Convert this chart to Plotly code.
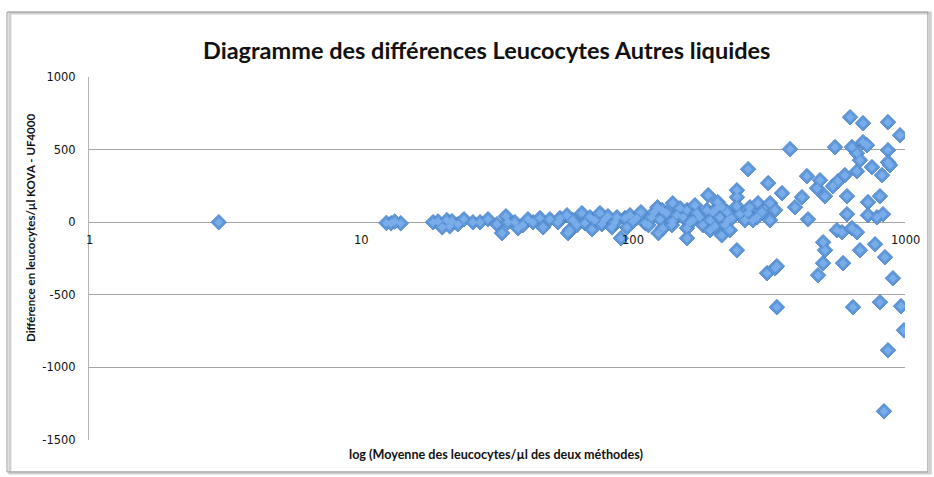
import plotly.graph_objects as go
import math

# Mean leukocyte count of the two methods (per µl) and KOVA - UF4000 difference
moyenne = [
    3.0, 12.4, 12.9, 14.0, 13.3, 18.4, 19.2, 19.9, 20.7, 21.2, 21.6, 22.7, 23.9, 25.8,
    27.4, 29.3, 31.6, 33.0, 34.1, 34.7, 36.8, 37.8, 39.4, 41.1, 42.9, 45.5, 46.7, 49.5,
    53.0, 53.9, 57.2, 57.7, 58.6, 60.1, 62.2, 64.9, 66.6, 69.5, 70.7, 72.5, 75.6, 76.9,
    78.9, 80.9, 83.7, 85.9, 87.3, 90.3, 93.4, 95.1, 97.5, 100, 103, 107, 111, 114,
    117, 120, 123, 124, 126, 128, 129, 133, 139, 140, 140, 145, 149, 153, 158,
    158, 158, 162, 166, 169, 172, 176, 181, 187, 189, 192, 192, 197, 200, 204,
    205, 209, 212, 212, 218, 222, 224, 227, 231, 241, 241, 241, 241, 247, 258,
    265, 265, 269, 276, 286, 288, 298, 311, 314, 319, 319, 333, 333, 338, 338,
    353, 378, 394, 418, 436, 440, 475, 479, 487, 500, 500, 508, 508, 543, 553,
    562, 567, 587, 592, 601, 612, 612, 628, 638, 638, 644, 666, 666, 666, 683,
    683, 701, 701, 725, 731, 731, 756, 776, 789, 809, 809, 823, 830, 837, 844,
    866, 866, 866, 866, 881, 903, 959, 967, 991,
]
difference = [
    0, -5, -7, -7, 5, 0, 5, -35, 14, -28, 7, -14, 20, 0,
    0, 20, -14, -75, 41, 0, 0, -41, -20, 20, 0, 28, -35, 20,
    0, 28, 48, -75, -55, 14, -20, 62, -7, 34, -48, 14, 62, -14,
    20, 41, -35, 0, 34, -110, 28, -35, 48, 7, 28, 69, -7, -20,
    34, 69, 103, -75, 20, 83, -41, 62, -20, 130, 7, 48, 96, 34, 83,
    -41, -110, 0, 14, 117, 62, 34, -20, 83, 186, 14, -55, 69, -28, 96,
    138, 34, 103, -90, -20, 69, 14, -55, 28, 220, 172, 110, -193, 55, 14,
    365, 62, 103, 14, 34, 131, 69, -351, 269, 131, 14, 83, -317, -303, -585,
    200, 503, 103, 172, 317, 20, 234, -365, 289, -138, -282, -193, 179, 248, 517,
    -55, 282, -69, -282, 324, 179, 55, 723, 517, -41, -585, 475, 351, -69, 427,
    -193, 682, 551, 530, 138, 48, 379, -152, 34, 179, -551, 324, 55, -1302, -241,
    689, 496, 413, -882, 393, -386, 599, -578, -744,
]

x_ticks = [1, 10, 100, 1000]
y_ticks = [-1500, -1000, -500, 0, 500, 1000]

fig = go.Figure()
fig.add_trace(go.Scatter(
    x=moyenne, y=difference, mode="markers",
    marker=dict(symbol="diamond", size=12, color="#5E97DA",
                line=dict(color="#4A7FC2", width=0.8)),
    hoverinfo="x+y", showlegend=False,
))
# lighter core on each diamond for the bevelled look
fig.add_trace(go.Scatter(
    x=moyenne, y=difference, mode="markers",
    marker=dict(symbol="diamond", size=6.5, color="#78ADEA", line=dict(width=0)),
    hoverinfo="skip", showlegend=False,
))

fig.update_layout(
    width=934, height=477,
    margin=dict(l=89, r=29, t=77, b=37),
    paper_bgcolor="white", plot_bgcolor="white",
    font=dict(family="DejaVu Sans", size=11.5, color="#111111"),
    xaxis=dict(type="log", range=[0, 3], showgrid=False, zeroline=False,
               showticklabels=False, ticks="", showline=False),
    yaxis=dict(range=[-1500, 1000], tickvals=y_ticks,
               ticktext=[str(v) for v in y_ticks], ticks="",
               showgrid=True, gridcolor="#A6A6A6", gridwidth=1,
               zeroline=True, zerolinecolor="#A6A6A6", zerolinewidth=1,
               showline=True, linecolor="#B4B4B4", linewidth=1,
               ticklabelstandoff=10,
               tickfont=dict(family="DejaVu Sans", size=11.5, color="#111111")),
)

# horizontal axis labels sit just under the zero line
for t in x_ticks:
    fig.add_annotation(x=math.log10(t), y=0, xref="x", yref="y", text=str(t),
                       showarrow=False, yshift=-18,
                       font=dict(family="DejaVu Sans", size=11.5, color="#111111"))

fig.add_annotation(x=0.4877, y=1.074, xref="paper", yref="paper",
                   xanchor="center", yanchor="middle",
                   text="<b>Diagramme des différences Leucocytes Autres liquides</b>",
                   showarrow=False, font=dict(family="Lato", size=23.5, color="#111111"))
fig.add_annotation(x=-0.0723, y=0.584, xref="paper", yref="paper", textangle=-90,
                   xanchor="center", yanchor="middle",
                   text="<b>Différence en leucocytes/µl KOVA - UF4000</b>",
                   showarrow=False, font=dict(family="Lato", size=11.5, color="#111111"))
fig.add_annotation(x=0.4988, y=-0.041, xref="paper", yref="paper",
                   xanchor="center", yanchor="middle",
                   text="<b>log (Moyenne des leucocytes/µl des deux méthodes)</b>",
                   showarrow=False, font=dict(family="Lato", size=12.6, color="#111111"))

# chart frame with a soft shadow
fig.add_shape(type="rect", xref="paper", yref="paper", x0=-0.097, x1=1.031, y0=-0.091, y1=1.176,
              line=dict(color="#D0D0D0", width=3), layer="below")
fig.add_shape(type="rect", xref="paper", yref="paper", x0=-0.1005, x1=1.028, y0=-0.088, y1=1.179,
              line=dict(color="#9A9A9A", width=1), layer="below")

fig.write_html("out.html")
